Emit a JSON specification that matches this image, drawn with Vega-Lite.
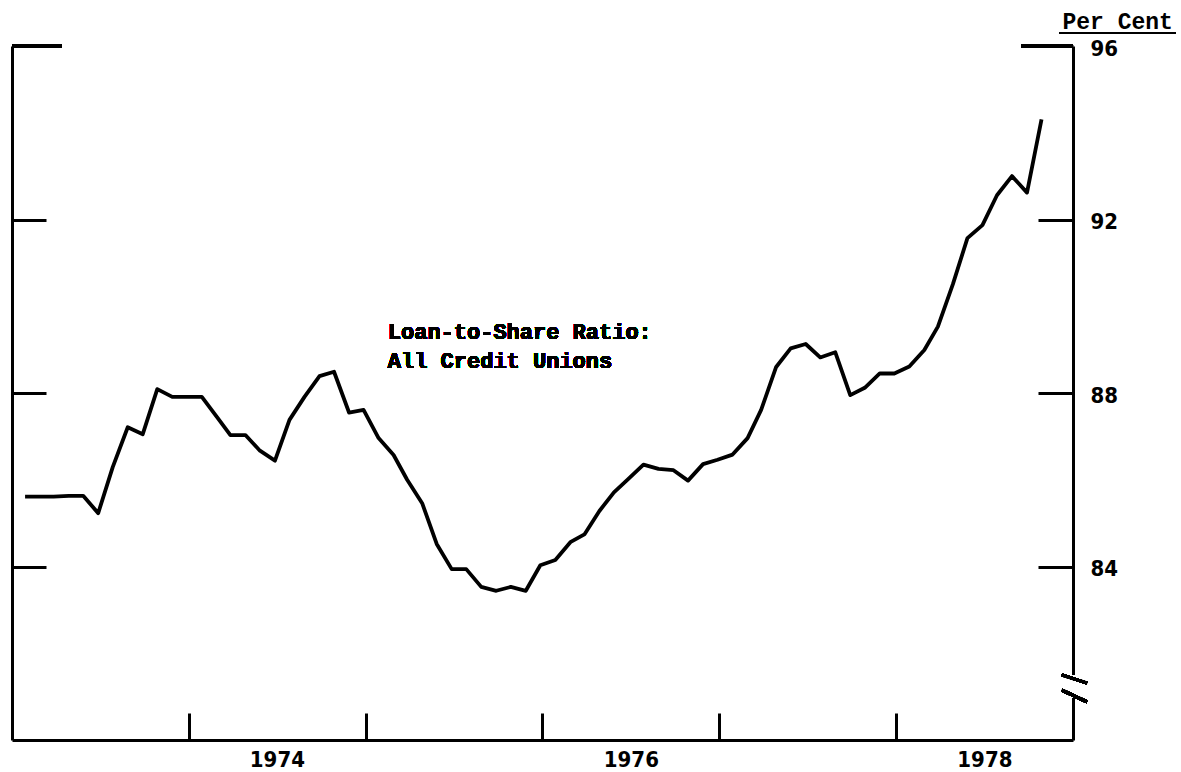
{
  "$schema": "https://vega.github.io/schema/vega-lite/v6.json",
  "width": 1061,
  "height": 694,
  "autosize": {"type": "none"},
  "padding": {"left": 12, "top": 46, "right": 108, "bottom": 32},
  "background": "white",
  "config": {
    "view": {"stroke": null},
    "axis": {
      "grid": false,
      "domainColor": "black",
      "tickColor": "black",
      "labelColor": "black",
      "titleColor": "black",
      "domainWidth": 3,
      "tickWidth": 3,
      "labelFont": "DejaVu Sans Condensed",
      "labelFontWeight": "bold",
      "labelFontSize": 22
    }
  },
  "data": {
    "values": [
      {"date": "1973-01-28", "ratio": 85.61}, {"date": "1973-02-28", "ratio": 85.61}, {"date": "1973-03-28", "ratio": 85.61},
      {"date": "1973-04-28", "ratio": 85.63}, {"date": "1973-05-28", "ratio": 85.63}, {"date": "1973-06-28", "ratio": 85.23},
      {"date": "1973-07-28", "ratio": 86.29}, {"date": "1973-08-28", "ratio": 87.21}, {"date": "1973-09-28", "ratio": 87.05},
      {"date": "1973-10-28", "ratio": 88.09}, {"date": "1973-11-28", "ratio": 87.91}, {"date": "1973-12-28", "ratio": 87.91},
      {"date": "1974-01-28", "ratio": 87.91}, {"date": "1974-02-28", "ratio": 87.45}, {"date": "1974-03-28", "ratio": 87.03},
      {"date": "1974-04-28", "ratio": 87.03}, {"date": "1974-05-28", "ratio": 86.67}, {"date": "1974-06-28", "ratio": 86.44},
      {"date": "1974-07-28", "ratio": 87.38}, {"date": "1974-08-28", "ratio": 87.91}, {"date": "1974-09-28", "ratio": 88.39},
      {"date": "1974-10-28", "ratio": 88.49}, {"date": "1974-11-28", "ratio": 87.55}, {"date": "1974-12-28", "ratio": 87.61},
      {"date": "1975-01-28", "ratio": 86.96}, {"date": "1975-02-28", "ratio": 86.57}, {"date": "1975-03-28", "ratio": 86.0},
      {"date": "1975-04-28", "ratio": 85.46}, {"date": "1975-05-28", "ratio": 84.52}, {"date": "1975-06-28", "ratio": 83.94},
      {"date": "1975-07-28", "ratio": 83.94}, {"date": "1975-08-28", "ratio": 83.53}, {"date": "1975-09-28", "ratio": 83.44},
      {"date": "1975-10-28", "ratio": 83.53}, {"date": "1975-11-28", "ratio": 83.44}, {"date": "1975-12-28", "ratio": 84.03},
      {"date": "1976-01-28", "ratio": 84.15}, {"date": "1976-02-28", "ratio": 84.56}, {"date": "1976-03-28", "ratio": 84.74},
      {"date": "1976-04-28", "ratio": 85.28}, {"date": "1976-05-28", "ratio": 85.71}, {"date": "1976-06-28", "ratio": 86.03},
      {"date": "1976-07-28", "ratio": 86.35}, {"date": "1976-08-28", "ratio": 86.25}, {"date": "1976-09-28", "ratio": 86.22},
      {"date": "1976-10-28", "ratio": 85.98}, {"date": "1976-11-28", "ratio": 86.36}, {"date": "1976-12-28", "ratio": 86.46},
      {"date": "1977-01-28", "ratio": 86.58}, {"date": "1977-02-28", "ratio": 86.96}, {"date": "1977-03-28", "ratio": 87.61},
      {"date": "1977-04-28", "ratio": 88.6}, {"date": "1977-05-28", "ratio": 89.03}, {"date": "1977-06-28", "ratio": 89.13},
      {"date": "1977-07-28", "ratio": 88.82}, {"date": "1977-08-28", "ratio": 88.94}, {"date": "1977-09-28", "ratio": 87.95},
      {"date": "1977-10-28", "ratio": 88.12}, {"date": "1977-11-28", "ratio": 88.45}, {"date": "1977-12-28", "ratio": 88.45},
      {"date": "1978-01-28", "ratio": 88.61}, {"date": "1978-02-28", "ratio": 88.99}, {"date": "1978-03-28", "ratio": 89.53},
      {"date": "1978-04-28", "ratio": 90.51}, {"date": "1978-05-28", "ratio": 91.57}, {"date": "1978-06-28", "ratio": 91.87},
      {"date": "1978-07-28", "ratio": 92.56}, {"date": "1978-08-28", "ratio": 93.0}, {"date": "1978-09-28", "ratio": 92.62},
      {"date": "1978-10-28", "ratio": 94.31}
    ]
  },
  "resolve": {"axis": {"y": "independent"}},
  "layer": [
    {
      "mark": {"type": "line", "color": "black", "strokeWidth": 3.8, "strokeJoin": "round"},
      "encoding": {
        "x": {
          "field": "date", "type": "temporal",
          "scale": {"type": "utc", "domain": [{"year": 1973, "month": 1, "date": 1, "utc": true}, {"year": 1979, "month": 1, "date": 1, "utc": true}]},
          "axis": {
            "title": null,
            "values": [
              {"year": 1974, "month": 1, "date": 1, "utc": true},
              {"year": 1974, "month": 7, "date": 2, "utc": true},
              {"year": 1975, "month": 1, "date": 1, "utc": true},
              {"year": 1976, "month": 1, "date": 1, "utc": true},
              {"year": 1976, "month": 7, "date": 2, "utc": true},
              {"year": 1977, "month": 1, "date": 1, "utc": true},
              {"year": 1978, "month": 1, "date": 1, "utc": true},
              {"year": 1978, "month": 7, "date": 2, "utc": true}
            ],
            "tickSize": -27,
            "tickOpacity": {"condition": {"test": "utcmonth(datum.value) == 6", "value": 0}, "value": 1},
            "labelPadding": 36,
            "labelOverlap": false,
            "labelFlush": false,
            "labelExpr": "utcmonth(datum.value) == 6 ? utcFormat(datum.value, '%Y') : ''"
          }
        },
        "y": {
          "field": "ratio", "type": "quantitative",
          "scale": {"domain": [80, 96], "nice": false, "zero": false},
          "axis": {"orient": "left", "title": null, "labels": false, "values": [84, 88, 92, 96], "tickSize": -34}
        }
      }
    },
    {
      "mark": {"type": "line", "strokeOpacity": 0},
      "encoding": {
        "x": {"field": "date", "type": "temporal"},
        "y": {
          "field": "ratio", "type": "quantitative",
          "axis": {
            "orient": "right", "title": "Per Cent", "values": [84, 88, 92, 96], "tickSize": -35,
            "labelPadding": 52, "labelBaseline": "middle", "labelOffset": 2,
            "titleAngle": 0, "titleX": -11, "titleY": -18, "titleAlign": "left", "titleBaseline": "alphabetic",
            "titleFont": "Liberation Mono", "titleFontWeight": "bold", "titleFontSize": 23
          }
        }
      }
    },
    {
      "mark": {"type": "rule", "color": "black", "strokeWidth": 3},
      "encoding": {
        "x": {"datum": {"year": 1973, "month": 1, "date": 1, "utc": true}, "type": "temporal"},
        "x2": {"datum": {"year": 1973, "month": 4, "date": 14, "utc": true}},
        "y": {"datum": 96, "type": "quantitative", "axis": null}
      }
    },
    {
      "mark": {"type": "rule", "color": "black", "strokeWidth": 3},
      "encoding": {
        "x": {"datum": {"year": 1978, "month": 9, "date": 16, "utc": true}, "type": "temporal"},
        "x2": {"datum": {"year": 1979, "month": 1, "date": 1, "utc": true}},
        "y": {"datum": 96, "type": "quantitative", "axis": null}
      }
    },
    {
      "mark": {"type": "text", "align": "left", "baseline": "alphabetic", "font": "Liberation Mono", "fontSize": 22, "fontWeight": "bold", "lineHeight": 29, "color": "black"},
      "encoding": {
        "x": {"datum": {"year": 1975, "month": 2, "date": 16, "utc": true}, "type": "temporal"},
        "y": {"datum": 89.245, "type": "quantitative", "axis": null},
        "text": {"value": ["Loan-to-Share Ratio:", "All Credit Unions"]}
      }
    },
    {
      "mark": {"type": "rule", "color": "black", "strokeWidth": 2},
      "encoding": {
        "x": {"datum": {"year": 1978, "month": 12, "date": 4, "utc": true}, "type": "temporal"},
        "x2": {"datum": {"year": 1979, "month": 8, "date": 1, "utc": true}},
        "y": {"datum": 96.3, "type": "quantitative", "axis": null}
      }
    },
    {
      "mark": {"type": "rule", "color": "white", "strokeWidth": 8},
      "encoding": {
        "x": {"datum": {"year": 1979, "month": 1, "date": 1, "utc": true}, "type": "temporal"},
        "y": {"datum": 80.99, "type": "quantitative", "axis": null},
        "y2": {"datum": 81.48}
      }
    },
    {
      "mark": {"type": "rule", "color": "black", "strokeWidth": 3},
      "encoding": {
        "x": {"datum": {"year": 1978, "month": 12, "date": 9, "utc": true}, "type": "temporal"},
        "x2": {"datum": {"year": 1979, "month": 1, "date": 30, "utc": true}},
        "y": {"datum": 81.5, "type": "quantitative", "axis": null},
        "y2": {"datum": 81.31}
      }
    },
    {
      "mark": {"type": "rule", "color": "black", "strokeWidth": 3},
      "encoding": {
        "x": {"datum": {"year": 1978, "month": 12, "date": 9, "utc": true}, "type": "temporal"},
        "x2": {"datum": {"year": 1979, "month": 1, "date": 30, "utc": true}},
        "y": {"datum": 81.15, "type": "quantitative", "axis": null},
        "y2": {"datum": 80.88}
      }
    }
  ]
}
